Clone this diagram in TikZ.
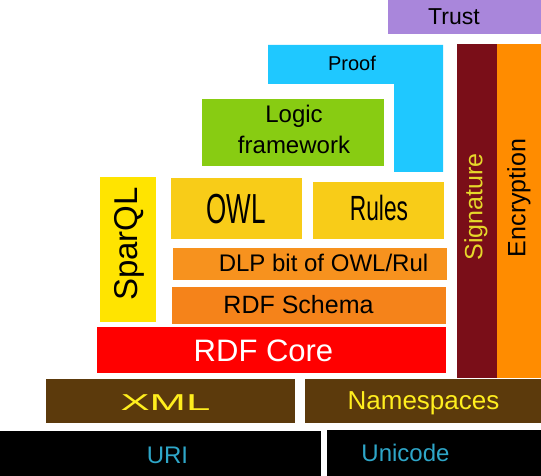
\documentclass[tikz,border=0pt]{standalone}
\usepackage{fontspec}
\setmainfont{Liberation Sans}
\definecolor{trustc}{HTML}{A986DB}
\definecolor{proofc}{HTML}{1FC8FF}
\definecolor{logicc}{HTML}{88CC12}
\definecolor{sparqlc}{HTML}{FFE400}
\definecolor{owlc}{HTML}{F8CC18}
\definecolor{dlpc}{HTML}{F7921E}
\definecolor{schemac}{HTML}{F5831A}
\definecolor{corec}{HTML}{FF0000}
\definecolor{xmlc}{HTML}{5C3A0C}
\definecolor{sigc}{HTML}{7A0E18}
\definecolor{encc}{HTML}{FF8C00}
\definecolor{yellowtxt}{HTML}{FFEE1E}
\definecolor{sigtxt}{HTML}{E6D82A}
\definecolor{uritxt}{HTML}{2EA6C8}
\newcommand\fsz[1]{\fontsize{#1}{#1}\selectfont}
\begin{document}
\begin{tikzpicture}[x=1pt,y=-1pt, line join=round,
  lbl/.style={inner sep=0pt, anchor=base}]
\useasboundingbox (0,0) rectangle (541,476);
\path
(388,0) coordinate (T1) (541,34) coordinate (T2)
(202,99) coordinate (L1) (384,166) coordinate (L2)
(457,44) coordinate (S1) (497,378) coordinate (S2)
(497,44) coordinate (E1) (541,378) coordinate (E2)
(100,177) coordinate (Q1) (156,322) coordinate (Q2)
(171,178) coordinate (O1) (302,239) coordinate (O2)
(313,182) coordinate (R1) (444,239) coordinate (R2)
(173,248) coordinate (D1) (447,280) coordinate (D2)
(172,287) coordinate (H1) (446,324) coordinate (H2)
(97,327) coordinate (C1) (446,373) coordinate (C2)
(46,379) coordinate (X1) (295,423) coordinate (X2)
(305,379) coordinate (N1) (541,423) coordinate (N2)
(0,431) coordinate (U1) (321,476) coordinate (U2)
(327,430) coordinate (V1) (541,476) coordinate (V2)
;
\foreach \a/\b/\c in {T/T/trustc,L/L/logicc,S/S/sigc,E/E/encc,Q/Q/sparqlc,O/O/owlc,R/R/owlc,D/D/dlpc,H/H/schemac,C/C/corec,X/X/xmlc,N/N/xmlc,U/U/black,V/V/black}
\fill[\c] (\a1) rectangle (\b2);
% Proof is an L shape
\fill[proofc] (268,45) -- (443,45) -- (443,172) -- (394,172) -- (394,84) -- (268,84) -- cycle;
\node[lbl, font=\fsz{23}] (trust) at (454,25) {Trust};
\node[lbl, font=\fsz{20}] (proof) at (352,71) {Proof};
\node[inner sep=0pt, align=center, font=\fontsize{24}{31}\selectfont] (logic) at (294,129) {Logic\\framework};
\node[lbl, font=\fsz{42}, xscale=0.62] (owl) at (236,223) {OWL};
\node[lbl, font=\fsz{35}, xscale=0.65] (rules) at (379,220) {Rules};
\node[inner sep=0pt, font=\fsz{33}, rotate=90] (sparql) at (129,244) {SparQL};
\node[lbl, font=\fsz{24}] (dlp) at (323.5,271) {DLP bit of OWL/Rul};
\node[lbl, font=\fsz{25}] (schema) at (298.5,313) {RDF Schema};
\node[lbl, font=\fsz{31}, text=white] (core) at (263.5,361) {RDF Core};
\node[lbl, font=\fsz{23}, xscale=1.9, text=yellowtxt] (xml) at (165.5,410) {XML};
\node[lbl, font=\fsz{26}, text=yellowtxt] (ns) at (423.5,409) {Namespaces};
\node[lbl, font=\fsz{24}, text=uritxt] (uri) at (167.5,463) {URI};
\node[lbl, font=\fsz{24}, text=uritxt] (unicode) at (405.5,461) {Unicode};
\node[inner sep=0pt, font=\fsz{25}, rotate=90, text=sigtxt] (sig) at (476,207) {Signature};
\node[inner sep=0pt, font=\fsz{25}, rotate=90] (enc) at (519,198) {Encryption};
\end{tikzpicture}
\end{document}
